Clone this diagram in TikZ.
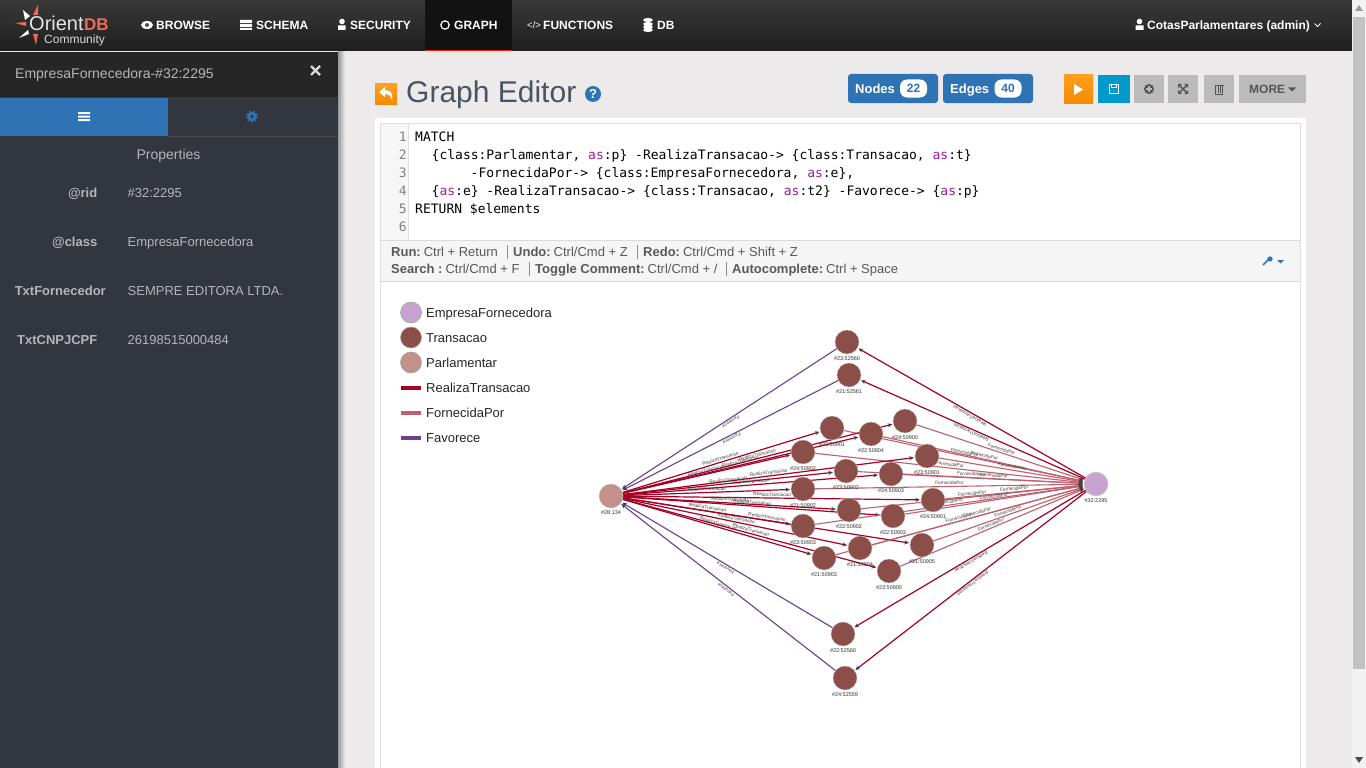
\documentclass[tikz,border=0pt]{standalone}
\usepackage{fontspec}
\setmainfont{Liberation Sans}
\setmonofont{DejaVu Sans Mono}
\usetikzlibrary{arrows.meta}
\tikzset{>={Stealth[length=4.5pt,width=4pt,color=black!75]}}
\definecolor{barblue}{HTML}{2E74B5}
\definecolor{sidebg}{HTML}{32363E}
\definecolor{pagebg}{HTML}{ECEAEB}
\definecolor{titlegray}{HTML}{4C5363}
\definecolor{sidetxt}{HTML}{B4B6B9}
\definecolor{btngray}{HTML}{BBBBBB}
\definecolor{icongray}{HTML}{555555}
\definecolor{logored}{HTML}{EE6A50}
\definecolor{kwpurple}{HTML}{9A1F9A}
\definecolor{savecyan}{HTML}{0099CC}
\definecolor{playhi}{HTML}{FFA01E}
\definecolor{playlo}{HTML}{F58A00}
\definecolor{transfill}{HTML}{8C4E48}
\definecolor{parlfill}{HTML}{C3908A}
\definecolor{empfill}{HTML}{C6A3D0}
\definecolor{realcol}{HTML}{A50026}
\definecolor{forncol}{HTML}{C0606E}
\definecolor{favcol}{HTML}{703F8A}
\newcommand{\fsz}[1]{\fontsize{#1}{#1}\selectfont}
\newcommand{\asword}[1]{\textcolor{kwpurple}{as}:#1}
\newcommand{\tkey}[1]{\textbf{#1}\kern3pt}
\pgfdeclarelayer{chrome}
\pgfdeclarelayer{edges}
\pgfsetlayers{chrome,edges,main}
\tikzset{
  txt/.style={inner sep=0,anchor=base west,font=\fsz{13}},
  navtxt/.style={txt,text=white,font=\fsz{12}\bfseries},
  sidekey/.style={inner sep=0,anchor=base east,text=sidetxt,font=\fsz{13}\bfseries},
  sideval/.style={txt,text=sidetxt},
  code/.style={txt,text=black,font=\fsz{13}\ttfamily},
  gutter/.style={inner sep=0,anchor=base east,text=black!50,font=\fsz{13}\ttfamily},
  tool/.style={txt,text=black!65,font=\fsz{13}},
  legtxt/.style={txt,text=black!85,font=\fsz{13}},
  btn/.style={inner sep=0,minimum height=28pt},
  badge/.style={btn,fill=barblue,rounded corners=3pt,minimum height=29pt,minimum width=90pt},
  pill/.style={inner sep=0,fill=white,rounded corners=7pt,minimum width=27pt,minimum height=18pt,text=barblue,font=\fsz{12}\bfseries},
  nlbl/.style={inner sep=0,text=black!80,font=\fsz{5.5},label distance=2.6pt},
  elbl/.style={midway,sloped,above,allow upside down,inner sep=1.2pt,text=black!75,font=\fsz{4.7}},
  vert/.style={circle,inner sep=0,minimum size=24pt,draw=white!80!black,line width=.3pt},
  trans/.style={vert,fill=transfill},
  parl/.style={vert,fill=parlfill},
  emp/.style={vert,fill=empfill},
  realedge/.style={->,realcol,line width=1.2pt,shorten >=1pt},
  fornedge/.style={->,forncol,line width=1.1pt,shorten >=1pt},
  favedge/.style={->,favcol,line width=1.1pt,shorten >=1pt},
  legdot/.style={circle,inner sep=0,minimum size=21pt,draw=black!35,line width=.6pt},
}
\begin{document}
\begin{tikzpicture}[x=1pt,y=-1pt]
\useasboundingbox (0,0) rectangle (1366,768);
\begin{pgfonlayer}{chrome}
\fill[pagebg] (0,0) rectangle (1366,768);
\fill[white] (375,118) rectangle (1306,768);
\fill[black!13] (380,123) rectangle (1301,768);
\fill[white] (381,124) rectangle (1300,768);
\fill[black!3] (381,124) rectangle (408,240);
\draw[black!12] (408,124) -- (408,240);
\fill[black!4] (381,240) rectangle (1300,281);
\draw[black!14] (381,240.5) -- (1300,240.5) (381,281.5) -- (1300,281.5);
\draw[black!45] (507,245) -- (507,259) (637,245) -- (637,259) (529,262) -- (529,276) (726,262) -- (726,276);
\shade[left color=black!40,right color=pagebg] (338,52) rectangle (345,768);
\fill[sidebg] (0,52) rectangle (338,768);
\fill[black!85] (0,52) rectangle (338,97);
\fill[barblue] (0,98) rectangle (168,136);
\draw[black!70] (168,136.5) -- (338,136.5);
\shade[top color=black!78,bottom color=black!88] (0,0) rectangle (1352,51);
\fill[black!93] (425,0) rectangle (512,50);
\fill[red!75!orange] (425,50) rectangle (512,51.5);
\fill[black!5] (1352,0) rectangle (1366,768);
\fill[black!24] (1353,17) rectangle (1365,669);
\fill[black!40] (1355,11) -- (1363,11) -- (1359,5) -- cycle;
\fill[black!70] (1355,757) -- (1363,757) -- (1359,763) -- cycle;
\end{pgfonlayer}
\fill[logored] (38,5) -- (33,15) -- (38,15) -- cycle;
\fill[white] (23,10) -- (25,20) -- (30,16) -- cycle;
\fill[logored] (15,23) -- (26,22) -- (26,26) -- cycle;
\fill[white] (19,38) -- (28,30) -- (29,34) -- cycle;
\fill[logored] (36,45) -- (33,34) -- (38,34) -- cycle;
\node[txt,text=white!90!black,font=\fsz{20}] (logoA) at (29,31) {Orient};
\node[txt,text=logored,font=\fsz{17}\bfseries] (logoB) at (84,31) {DB};
\node[txt,text=white!85!black,font=\fsz{12}] (logoC) at (44,44) {Community};
\fill[white] (147,25) ellipse (6 and 4);
\fill[black!70] (147,25) circle (2);
\fill[white] (240,20) rectangle (252,23) (240,24) rectangle (252,27) (240,28) rectangle (252,30);
\node[navtxt] (navBrowse) at (156,29.5) {BROWSE};
\node[navtxt] (navSchema) at (256,29.5) {SCHEMA};
\fill[white] (342,21.5) circle (2.8) (338,30) rectangle (345.5,25.5);
\node[navtxt] (navSecurity) at (350,29.5) {SECURITY};
\draw[white,line width=1.2pt] (445,25) circle (4.2);
\node[navtxt] (navGraph) at (454,29.5) {GRAPH};
\node[txt,text=white,font=\fsz{9.5}] (navCode) at (527,28.5) {</>};
\node[navtxt] (navFunc) at (543,29.5) {FUNCTIONS};
\fill[white] (648,20) ellipse (5 and 2) (648,24) ellipse (5 and 2) (648,27) ellipse (5 and 2) (648,30) ellipse (5 and 2);
\node[navtxt] (navDb) at (657,29.5) {DB};
\fill[white] (1139.5,21.5) circle (2.8) (1135.5,30) rectangle (1143.5,25.5);
\node[navtxt] (navUser) at (1147,29.5) {CotasParlamentares (admin)};
\draw[white,line width=.8pt] (1314.5,23.5) -- (1317.5,26.5) -- (1320.5,23.5);
\node[txt,text=sidetxt,font=\fsz{14}] (sideTitle) at (15,78) {EmpresaFornecedora-\#32:2295};
\draw[white!85!black,line width=2.4pt] (311,66) -- (320,75) (320,66) -- (311,75);
\fill[white] (78,112) rectangle (90,114) (78,115.5) rectangle (90,117.5) (78,119) rectangle (90,121);
\fill[barblue] (252,116.5) circle (4.8);
\draw[barblue,line width=1.5pt,dash pattern=on 1.6pt off 2.1pt] (252,116.5) circle (5.4);
\fill[sidebg] (252,116.5) circle (1.8);
\node[inner sep=0,text=sidetxt,font=\fsz{14}] (sideProp) at (168.5,155.5) {Properties};
\node[sidekey] (kRid) at (97.5,197) {@rid};
\node[sideval] (vRid) at (127.5,197) {\#32:2295};
\node[sidekey] (kClass) at (97.5,246) {@class};
\node[sideval] (vClass) at (127.5,246) {EmpresaFornecedora};
\node[sidekey] (kForn) at (106,295) {TxtFornecedor};
\node[sideval] (vForn) at (127.5,295) {SEMPRE EDITORA LTDA.};
\node[sidekey] (kCnpj) at (97.5,344) {TxtCNPJCPF};
\node[sideval] (vCnpj) at (127.5,344) {26198515000484};
\shade[top color=playhi,bottom color=playlo] (375,84) rectangle (397,104);
\fill[white] (379,92) -- (385,87) -- (385,90) .. controls (391,90) and (393,94) .. (392,100) .. controls (391,96) and (389,94) .. (385,94) -- (385,97) -- cycle;
\node[txt,text=titlegray,font=\fsz{30}] (title) at (406,102.5) {Graph Editor};
\node[circle,inner sep=0,minimum size=16pt,fill=barblue,text=white,font=\fsz{13}\bfseries] (help) at (593,94) {?};
\node[badge] (bNodes) at (893,88.5) {};
\node[badge] (bEdges) at (988,88.5) {};
\node[txt,text=white,font=\fsz{13}\bfseries] (lNodes) at (855,93) {Nodes};
\node[pill] (pNodes) at (913.5,88.5) {22};
\node[txt,text=white,font=\fsz{13}\bfseries] (lEdges) at (950,93) {Edges};
\node[pill] (pEdges) at (1008,88.5) {40};
\node[btn,top color=playhi,bottom color=playlo,minimum width=29pt] (bPlay) at (1078.5,89) {};
\node[btn,fill=savecyan,minimum width=32pt] (bSave) at (1114,89) {};
\node[btn,fill=btngray,minimum width=30pt] (bAdd) at (1149,89) {};
\node[btn,fill=btngray,minimum width=30pt] (bFit) at (1183,89) {};
\node[btn,fill=btngray,minimum width=30pt] (bTrash) at (1219,89) {};
\node[btn,fill=btngray,minimum width=67pt] (bMore) at (1272.5,89) {};
\fill[white] (1074,84) -- (1074,95) -- (1083,89.5) -- cycle;
\draw[white,line width=1pt] (1109.5,84.5) rectangle (1118.5,93.5) (1111.5,84.5) rectangle (1116,87.5);
\fill[icongray] (1149,89) circle (5);
\draw[btngray,line width=1.2pt] (1146,89) -- (1152,89) (1149,86) -- (1149,92);
\draw[icongray,line width=1.4pt] (1180,86) -- (1186,92) (1186,86) -- (1180,92);
\fill[icongray] (1178,84) -- (1182,84) -- (1178,88) -- cycle (1188,84) -- (1184,84) -- (1188,88) -- cycle (1178,94) -- (1182,94) -- (1178,90) -- cycle (1188,94) -- (1184,94) -- (1188,90) -- cycle;
\draw[icongray,line width=.9pt] (1215.5,85.5) rectangle (1222.5,94) (1214.5,85) -- (1223.5,85) (1218,86.5) -- (1218,93) (1220,86.5) -- (1220,93);
\node[txt,text=icongray,font=\fsz{12}\bfseries] (lMore) at (1249,93) {MORE};
\fill[icongray] (1288,87.5) -- (1296,87.5) -- (1292,91.5) -- cycle;
\foreach \num/\y in {1/141,2/159,3/177,4/195,5/213,6/231}
  \node[gutter] (ln\num) at (407,\y) {\num};
\node[code] (c1) at (415,141) {MATCH};
\node[code] (c2) at (431.5,159) {\{class:Parlamentar, \asword{p}\} -RealizaTransacao-> \{class:Transacao, \asword{t}\}};
\node[code] (c3) at (470.5,177) {-FornecidaPor-> \{class:EmpresaFornecedora, \asword{e}\},};
\node[code] (c4) at (431.5,195) {\{\asword{e}\} -RealizaTransacao-> \{class:Transacao, \asword{t2}\} -Favorece-> \{\asword{p}\}};
\node[code] (c5) at (415,213) {RETURN \$elements};
\node[tool] (tRun) at (391,256) {\tkey{Run:}Ctrl + Return};
\node[tool] (tUndo) at (513,256) {\tkey{Undo:}Ctrl/Cmd + Z};
\node[tool] (tRedo) at (643,256) {\tkey{Redo:}Ctrl/Cmd + Shift + Z};
\node[tool] (tSearch) at (391,273.8) {\tkey{Search :}Ctrl/Cmd + F};
\node[tool] (tToggle) at (535,273.8) {\tkey{Toggle Comment:}Ctrl/Cmd + /};
\node[tool] (tAuto) at (732,273.8) {\tkey{Autocomplete:}Ctrl + Space};
\draw[barblue,line width=1.6pt] (1263,265) -- (1269,259);
\fill[barblue] (1270,259) circle (2.6);
\fill[barblue] (1277,260) -- (1284,260) -- (1280.5,263.5) -- cycle;
\node[legdot,fill=empfill] (legEmp) at (411,312.5) {};
\node[legdot,fill=transfill] (legTrans) at (411,337.5) {};
\node[legdot,fill=parlfill] (legParl) at (411,362.5) {};
\node[legtxt] (lEmp) at (426,317) {EmpresaFornecedora};
\node[legtxt] (lTrans) at (426,342) {Transacao};
\node[legtxt] (lParl) at (426,367) {Parlamentar};
\node[legtxt] (lReal) at (426,392) {RealizaTransacao};
\node[legtxt] (lForn) at (426,417) {FornecidaPor};
\node[legtxt] (lFav) at (426,442) {Favorece};
\coordinate (rA) at (401,387.5);
\coordinate (rB) at (421,387.5);
\coordinate (fA) at (401,412.5);
\coordinate (fB) at (421,412.5);
\coordinate (vA) at (401,437.5);
\coordinate (vB) at (421,437.5);
\draw[realcol,line width=4pt] (rA) -- (rB);
\draw[forncol,line width=4pt] (fA) -- (fB);
\draw[favcol,line width=4pt] (vA) -- (vB);
\node[parl,label={[nlbl]below:\#28:134}] (parl) at (611,496) {};
\node[emp,label={[nlbl]below:\#32:2295}] (emp) at (1096,484) {};
\foreach \nm/\x/\y/\rid in {a/847/342/23:52560,b/849/375/21:52561,c/843/634/22:52560,d/845/678/24:52559,
  t1/832/428/22:50901,t2/905/421/24:50900,t3/871/434/22:50904,t4/803/452/24:50902,
  t5/927/456/23:50901,t6/846/471/23:50902,t7/891/474/24:50903,t8/803/489/21:50902,
  t9/933/500/24:50901,t10/849/510/22:50902,t11/893/516/22:50903,t12/803/526/23:50903,
  t13/922/545/21:50905,t14/860/548/21:50904,t15/824/558/21:50903,t16/889/571/23:50900}
  \node[trans,label={[nlbl]below:\#\rid}] (\nm) at (\x,\y) {};
\begin{pgfonlayer}{edges}
\foreach \nm in {t1,t2,t3,t4,t5,t6,t7,t8,t9,t10,t11,t12,t13,t14,t15,t16} {
  \draw[realedge] (parl) -- node[elbl] {RealizaTransacao} (\nm);
  \draw[fornedge] (\nm) -- node[elbl] {FornecidaPor} (emp);
}
\foreach \nm in {a,b,c,d} {
  \draw[realedge] (emp) -- node[elbl] {RealizaTransacao} (\nm);
  \draw[favedge] (\nm) -- node[elbl] {Favorece} (parl);
}
\end{pgfonlayer}
\end{tikzpicture}
\end{document}
